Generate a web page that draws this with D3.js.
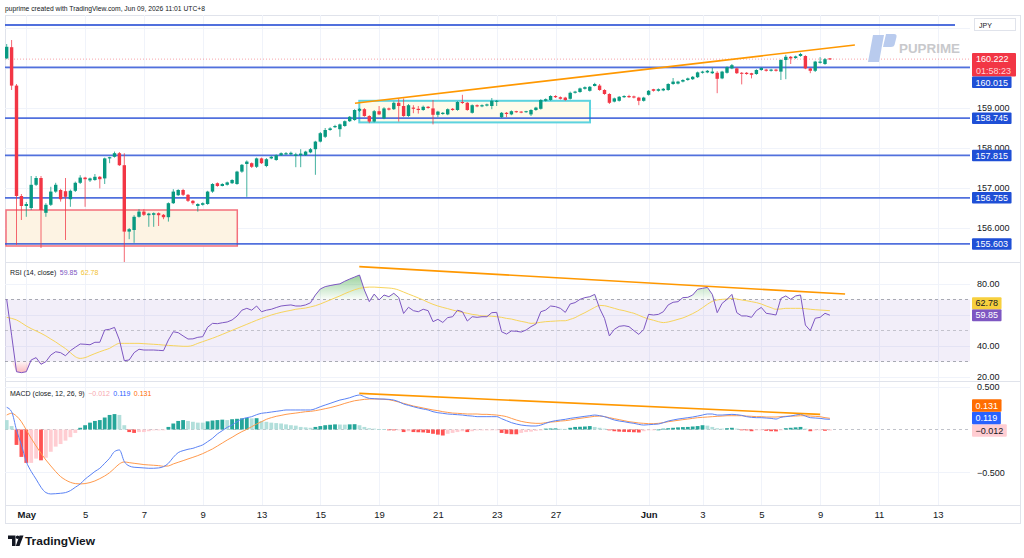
<!DOCTYPE html>
<html><head><meta charset="utf-8">
<script src="https://cdn.jsdelivr.net/npm/d3@7/dist/d3.min.js"></script>
<style>
html,body{margin:0;padding:0;background:#fff;}
svg{display:block;}
</style></head><body>
<svg id="chart" width="1024" height="558"></svg>
<script>
// ---------------- DATA ----------------
const opens = [
160.24,160.52,159.56,156.80,156.55,156.50,157.08,157.25,156.38,156.58,
156.91,156.95,156.92,156.72,156.93,157.13,157.26,157.19,157.20,157.28,
157.24,157.74,157.78,157.87,157.57,155.91,155.95,156.28,156.41,156.32,
156.33,156.37,156.33,156.27,156.62,156.82,156.95,156.83,156.68,156.55,
156.58,156.60,156.91,157.12,157.05,157.08,157.12,157.10,157.41,157.60,
157.62,157.53,157.74,157.55,157.74,157.70,157.82,157.84,157.84,157.80,
157.82,157.82,157.89,157.97,158.16,158.28,158.45,158.52,158.47,158.55,
158.67,158.70,158.93,158.97,158.80,158.66,158.92,158.74,158.99,158.97,
159.13,159.05,158.80,159.01,158.98,158.95,159.03,158.99,158.83,158.85,
158.84,158.98,158.95,159.15,159.13,158.88,159.07,159.04,159.06,159.05,
159.16,158.77,158.88,158.84,158.92,158.91,158.90,158.84,158.95,158.98,
159.18,159.20,159.30,159.27,159.26,159.23,159.38,159.40,159.48,159.43,
159.55,159.56,159.45,159.35,159.16,159.18,159.27,159.30,159.29,159.26,
159.18,159.33,159.47,159.43,159.44,159.45,159.60,159.61,159.66,159.70,
159.72,159.77,159.88,159.89,159.87,159.88,159.74,159.88,159.99,159.99,
159.88,159.88,159.87,159.85,159.95,159.96,159.93,159.96,159.91,160.20,
160.28,160.25,160.30,160.30,159.99,159.93,160.13,160.10,160.24];
const highs = [
160.60,160.70,159.60,156.85,156.65,157.30,157.30,157.30,156.62,157.03,
157.13,156.98,157.25,156.96,157.16,157.32,157.28,157.26,157.35,157.30,
157.76,157.78,157.91,157.90,157.87,156.00,156.32,156.47,156.47,156.38,
156.39,156.39,156.35,156.64,156.97,156.97,156.98,156.85,156.70,156.62,
156.64,156.93,157.12,157.14,157.12,157.16,157.22,157.43,157.60,157.69,
157.64,157.76,157.76,157.75,157.80,157.84,157.89,157.90,157.91,157.88,
157.97,157.93,158.00,158.18,158.40,158.50,158.52,158.58,158.61,158.69,
158.80,158.97,159.00,159.00,158.82,158.95,159.05,159.02,159.01,159.16,
159.24,159.24,159.10,159.07,159.05,159.06,159.05,159.20,158.93,158.90,
158.99,159.00,159.17,159.33,159.15,159.09,159.09,159.09,159.11,159.25,
159.20,158.90,158.90,158.94,158.93,158.92,158.93,158.97,159.03,159.22,
159.24,159.32,159.32,159.29,159.28,159.41,159.43,159.51,159.54,159.55,
159.63,159.60,159.47,159.37,159.26,159.30,159.32,159.33,159.31,159.28,
159.28,159.45,159.48,159.49,159.50,159.62,159.75,159.68,159.72,159.76,
159.80,159.91,159.93,159.95,160.00,159.92,159.93,160.04,160.10,160.01,
159.90,159.90,159.88,159.97,160.02,159.98,159.98,159.98,160.22,160.33,
160.30,160.31,160.38,160.32,160.01,160.18,160.27,160.25,160.25];
const lows = [
160.22,159.45,155.58,156.20,156.28,156.45,157.05,155.50,156.28,156.55,
156.88,156.66,155.70,156.53,156.90,157.10,156.53,157.15,157.18,156.99,
157.10,157.62,157.76,157.55,155.13,155.72,155.63,156.26,156.30,156.03,
156.03,156.05,156.22,156.16,156.60,156.80,156.80,156.65,156.58,156.41,
156.56,156.58,156.88,157.03,157.04,157.06,157.10,157.08,157.38,156.78,
157.50,157.50,157.60,157.52,157.72,157.68,157.80,157.83,157.82,157.52,
157.52,157.80,157.87,157.33,158.14,158.25,158.43,158.50,158.28,158.53,
158.65,158.68,158.90,158.78,158.62,158.64,158.82,158.72,158.94,158.95,
158.66,158.78,158.78,158.87,158.86,158.93,158.98,158.59,158.77,158.83,
158.82,158.93,158.93,159.10,158.93,158.86,159.02,159.02,159.04,158.97,
159.05,158.75,158.77,158.82,158.88,158.87,158.88,158.80,158.93,158.96,
159.16,159.18,159.25,159.21,159.18,159.21,159.36,159.38,159.46,159.41,
159.54,159.43,159.33,159.10,159.14,159.16,159.25,159.25,159.24,159.07,
159.16,159.31,159.41,159.41,159.42,159.43,159.58,159.59,159.64,159.68,
159.70,159.75,159.86,159.87,159.85,159.37,159.72,159.86,159.97,159.85,
159.59,159.83,159.74,159.83,159.93,159.91,159.91,159.91,159.70,159.72,
160.10,160.23,160.28,159.97,159.87,159.90,160.11,160.08,160.20];
const closes = [
160.53,159.56,156.80,156.55,156.60,157.08,157.25,156.45,156.58,156.91,
157.08,156.72,156.78,156.93,157.13,157.26,157.22,157.24,157.28,157.22,
157.74,157.77,157.87,157.57,155.91,155.97,156.28,156.41,156.33,156.36,
156.37,156.32,156.27,156.62,156.91,156.95,156.83,156.68,156.62,156.60,
156.62,156.91,157.10,157.05,157.10,157.14,157.20,157.41,157.58,157.66,
157.53,157.74,157.62,157.72,157.78,157.82,157.87,157.87,157.88,157.84,
157.86,157.91,157.97,158.16,158.37,158.45,158.49,158.55,158.59,158.67,
158.78,158.95,158.98,158.80,158.66,158.92,158.84,158.99,158.96,159.13,
159.05,158.80,159.07,158.98,158.95,159.03,159.00,158.83,158.91,158.88,
158.97,158.95,159.15,159.13,158.95,159.07,159.04,159.07,159.09,159.18,
159.18,158.88,158.85,158.92,158.90,158.89,158.92,158.95,159.01,159.20,
159.22,159.30,159.27,159.23,159.20,159.38,159.41,159.49,159.52,159.53,
159.60,159.45,159.35,159.13,159.24,159.28,159.30,159.27,159.26,159.18,
159.26,159.43,159.43,159.47,159.48,159.60,159.66,159.66,159.70,159.74,
159.78,159.89,159.91,159.93,159.91,159.73,159.91,160.02,160.07,159.87,
159.86,159.85,159.83,159.95,160.00,159.93,159.96,159.93,160.20,160.28,
160.24,160.29,160.35,159.99,159.93,160.16,160.16,160.22,160.222];

const rsi = [
70.1,47.0,23.4,22.8,23.4,31.0,32.5,28.2,29.9,34.2,
36.3,35.7,33.7,37.0,39.2,41.3,41.1,40.8,42.4,42.4,
50.3,50.8,52.0,43.9,30.5,31.0,35.7,37.9,37.4,37.4,
37.4,37.2,37.0,43.9,49.2,48.6,46.5,44.5,44.6,45.6,
46.0,52.1,54.6,54.4,55.0,55.5,56.8,59.3,63.1,64.3,
63.1,65.8,62.1,63.1,63.7,64.8,65.8,66.2,66.5,65.8,
65.8,66.5,67.9,72.9,76.8,78.3,79.0,79.6,80.1,81.8,
83.2,84.5,85.8,76.1,68.6,73.5,69.7,72.9,71.8,74.0,
71.3,61.0,65.0,62.8,62.1,63.7,62.8,55.7,57.2,55.2,
58.3,58.9,63.1,62.1,56.1,58.9,58.5,58.9,58.9,61.5,
61.7,49.2,47.7,49.7,49.5,49.0,50.3,52.5,54.2,62.1,
63.2,65.8,65.4,64.3,61.7,67.1,68.0,70.1,71.2,71.8,
73.3,64.3,57.8,46.5,50.7,52.7,53.1,52.5,49.9,47.5,
50.7,60.4,60.0,60.4,62.1,66.5,68.2,68.6,71.2,71.4,
72.9,76.6,77.2,77.8,73.3,61.5,67.5,70.1,73.3,61.5,
59.4,59.4,58.5,62.8,64.9,61.1,60.6,60.0,70.7,72.3,
70.1,72.3,72.9,53.5,49.9,57.9,58.5,61.1,59.85];
const rsiMA = [
58.5,57.8,56.8,55.0,52.9,51.2,49.7,48.2,46.5,44.5,
42.6,40.4,38.3,35.7,33.1,32.0,32.5,33.8,35.1,36.3,
37.4,38.5,40.4,41.7,41.7,41.7,41.7,41.7,41.5,41.3,
41.1,40.9,40.6,40.4,40.2,40.0,39.8,39.8,40.4,41.7,
42.8,43.9,45.0,46.2,47.5,48.8,50.1,51.4,52.7,54.0,
55.3,56.6,57.8,58.9,60.0,60.9,61.7,62.4,63.0,63.7,
64.1,64.5,65.2,66.0,67.1,68.4,69.7,71.0,72.3,73.8,
75.1,76.3,77.2,77.8,78.0,78.0,77.8,77.6,77.4,77.0,
76.1,74.8,73.5,72.3,71.0,69.7,68.2,66.9,65.8,64.9,
64.1,63.2,62.4,61.7,61.1,60.4,60.0,59.4,59.4,59.2,
58.9,58.5,57.8,57.4,56.6,55.9,55.3,54.6,54.8,55.3,
55.7,55.9,56.1,56.3,56.3,57.2,58.3,60.0,61.5,63.2,
64.9,66.2,66.0,65.2,64.3,63.4,62.8,61.9,61.1,59.8,
58.5,57.4,56.6,55.7,55.1,55.5,56.3,57.2,58.1,59.4,
60.9,62.6,64.7,66.9,68.8,69.7,70.1,70.3,70.7,70.3,
69.7,69.2,68.6,68.0,67.1,65.8,64.7,63.7,63.9,64.3,
64.3,64.3,64.3,64.1,63.7,63.4,63.2,63.0,62.78];

const macd = [
0.259,0.208,-0.006,-0.180,-0.375,-0.490,-0.580,-0.675,-0.737,-0.753,
-0.750,-0.745,-0.737,-0.714,-0.675,-0.636,-0.580,-0.535,-0.490,-0.453,
-0.395,-0.336,-0.258,-0.239,-0.375,-0.426,-0.441,-0.445,-0.449,-0.453,
-0.453,-0.449,-0.434,-0.395,-0.325,-0.270,-0.247,-0.231,-0.220,-0.200,
-0.180,-0.142,-0.103,-0.052,-0.014,0.025,0.053,0.091,0.122,0.138,
0.150,0.173,0.189,0.196,0.204,0.212,0.220,0.228,0.228,0.228,
0.228,0.228,0.228,0.243,0.266,0.286,0.305,0.325,0.344,0.356,
0.371,0.391,0.403,0.383,0.364,0.360,0.356,0.356,0.352,0.344,
0.325,0.298,0.282,0.266,0.251,0.239,0.228,0.208,0.196,0.189,
0.181,0.177,0.173,0.169,0.161,0.157,0.150,0.150,0.150,0.150,
0.150,0.126,0.103,0.080,0.064,0.052,0.045,0.041,0.041,0.052,
0.072,0.091,0.103,0.111,0.119,0.130,0.138,0.146,0.154,0.161,
0.169,0.161,0.150,0.130,0.111,0.099,0.091,0.080,0.072,0.060,
0.052,0.056,0.060,0.064,0.080,0.099,0.111,0.122,0.130,0.138,
0.146,0.157,0.169,0.181,0.181,0.169,0.169,0.173,0.177,0.173,
0.165,0.150,0.142,0.138,0.138,0.134,0.130,0.122,0.142,0.150,
0.157,0.169,0.177,0.157,0.138,0.134,0.130,0.122,0.119];
const signal = [
0.169,0.189,0.157,0.091,-0.006,-0.103,-0.193,-0.278,-0.356,-0.426,
-0.492,-0.550,-0.589,-0.617,-0.632,-0.636,-0.632,-0.620,-0.601,-0.574,
-0.543,-0.504,-0.453,-0.402,-0.379,-0.387,-0.395,-0.402,-0.410,-0.414,
-0.418,-0.422,-0.430,-0.426,-0.402,-0.383,-0.364,-0.344,-0.325,-0.305,
-0.282,-0.255,-0.227,-0.193,-0.158,-0.123,-0.091,-0.056,-0.025,0.002,
0.033,0.064,0.091,0.119,0.138,0.154,0.165,0.177,0.185,0.192,
0.200,0.208,0.212,0.220,0.231,0.243,0.255,0.270,0.286,0.305,
0.321,0.336,0.344,0.352,0.356,0.356,0.356,0.352,0.348,0.336,
0.321,0.305,0.290,0.274,0.263,0.251,0.239,0.228,0.220,0.208,
0.200,0.192,0.189,0.185,0.181,0.181,0.181,0.177,0.177,0.173,
0.169,0.161,0.150,0.130,0.111,0.095,0.084,0.076,0.072,0.072,
0.080,0.087,0.091,0.099,0.103,0.111,0.122,0.130,0.138,0.146,
0.154,0.157,0.150,0.138,0.126,0.115,0.103,0.091,0.084,0.076,
0.072,0.068,0.068,0.072,0.080,0.091,0.099,0.107,0.115,0.122,
0.130,0.138,0.142,0.146,0.150,0.154,0.157,0.161,0.161,0.161,
0.161,0.157,0.154,0.150,0.150,0.146,0.146,0.146,0.150,0.154,
0.157,0.157,0.161,0.161,0.157,0.154,0.150,0.138,0.131];
const hist = [
0.11,0.04,-0.18,-0.32,-0.39,-0.39,-0.34,-0.36,-0.33,-0.26,
-0.20,-0.17,-0.13,-0.09,-0.04,0.02,0.05,0.08,0.10,0.11,
0.14,0.17,0.18,0.17,0.05,-0.03,-0.04,-0.03,-0.03,-0.02,
-0.01,-0.01,-0.005,0.03,0.07,0.10,0.11,0.10,0.09,0.08,
0.08,0.095,0.105,0.11,0.115,0.11,0.12,0.125,0.13,0.135,
0.13,0.132,0.10,0.09,0.08,0.075,0.07,0.06,0.05,0.045,
0.03,0.025,0.02,0.03,0.04,0.05,0.055,0.06,0.058,0.057,
0.06,0.062,0.05,0.03,0.015,0.01,0.006,0.004,-0.005,-0.01,
-0.008,-0.03,-0.02,-0.03,-0.032,-0.034,-0.04,-0.05,-0.06,-0.07,
-0.05,-0.04,-0.03,-0.02,-0.03,-0.02,-0.01,-0.01,-0.01,-0.008,
-0.008,-0.04,-0.05,-0.055,-0.056,-0.04,-0.03,-0.025,-0.015,-0.01,
0.01,0.012,0.013,0.008,0.007,0.02,0.03,0.032,0.035,0.04,
0.03,0.02,0.01,-0.01,-0.02,-0.025,-0.028,-0.03,-0.032,-0.035,
-0.02,-0.01,-0.005,0.0,0.01,0.015,0.02,0.025,0.028,0.03,
0.035,0.04,0.05,0.045,0.03,0.015,0.01,0.015,0.02,0.01,
-0.005,-0.01,-0.02,-0.01,-0.008,-0.015,-0.02,-0.022,-0.005,0.015,
0.02,0.025,0.03,0.01,-0.02,-0.01,-0.008,-0.015,-0.012];

const timeTickBars = [4,16,28,40,52,64,76,88,100,112,131,142,154,166,178,190];
const timeTickLabels = ["May","5","7","9","13","15","19","21","23","27","Jun","3","5","9","11","13"];
const priceTicks = [156,157,158,159];
const rsiTicks = [20,40,80];
const macdTicks = [-0.5,0.5];
const levelLines = [161.075,160.015,158.745,157.815,156.755,155.603];
const labelledLevels = [160.015,158.745,157.815,156.755,155.603];
const lastPrice = 160.222;
const countdown = "01:58:23";
const trendPrice = [[71.08,159.12],[173.1,160.575]];
const trendRSI = [[71.96,91.2],[171.1,73.5]];
const trendMACD = [[71.96,0.422],[166,0.177]];
const rangeBox = [[71.96,159.18],[119.04,158.64]];
const demandBox = [[-0.14,156.45],[47.06,155.55]];

// ---------------- LAYOUT ----------------
const FF = "'Liberation Sans', Arial, sans-serif";
const L = 5, R = 970, SR = 1021;
const mainTop = 15, mainBot = 262, rsiTop = 262, rsiBot = 381, macdTop = 381, macdBot = 505, axisBot = 524;

const svg = d3.select("#chart").attr("font-family", FF);
const x = d3.scaleLinear().domain([0,168]).range([6.7, 6.7 + 4.9*168]);
const yP = d3.scaleLinear().domain([156,160]).range([228,68]);
const yR = d3.scaleLinear().domain([40,80]).range([346,284]);
const yM = d3.scaleLinear().domain([-0.5,0.5]).range([472.3,386.7]);

const defs = svg.append("defs");
function clip(id, y0, y1){ defs.append("clipPath").attr("id",id).append("rect").attr("x",L).attr("y",y0).attr("width",R-L).attr("height",y1-y0); }
clip("cMain", mainTop, mainBot); clip("cRsi", rsiTop, rsiBot); clip("cMacd", macdTop, macdBot);

const gOB = defs.append("linearGradient").attr("id","gOB").attr("gradientUnits","userSpaceOnUse").attr("x1",0).attr("x2",0).attr("y1",yR(87)).attr("y2",yR(70));
gOB.append("stop").attr("offset",0).attr("stop-color","rgba(76,175,80,0.6)");
gOB.append("stop").attr("offset",1).attr("stop-color","rgba(76,175,80,0.03)");
const gOS = defs.append("linearGradient").attr("id","gOS").attr("gradientUnits","userSpaceOnUse").attr("x1",0).attr("x2",0).attr("y1",yR(30)).attr("y2",yR(20));
gOS.append("stop").attr("offset",0).attr("stop-color","rgba(242,54,69,0.05)");
gOS.append("stop").attr("offset",1).attr("stop-color","rgba(242,54,69,0.45)");

svg.append("rect").attr("width",1024).attr("height",558).attr("fill","#fff");

// header
svg.append("text").attr("x",5).attr("y",11).attr("font-size",8).attr("fill","#131722")
  .attr("textLength",200).attr("lengthAdjust","spacingAndGlyphs")
  .text("puprime created with TradingView.com, Jun 09, 2026 11:01 UTC+8");

// frame
svg.append("rect").attr("x",L+0.5).attr("y",mainTop+0.5).attr("width",SR-L-1).attr("height",axisBot-mainTop-1)
  .attr("fill","none").attr("stroke","#e0e3eb");

// grid
const grid = svg.append("g").attr("stroke","#f0f3fa").attr("stroke-width",1);
timeTickBars.forEach(b=>{ const xx=Math.round(x(b))+0.5; grid.append("line").attr("x1",xx).attr("x2",xx).attr("y1",mainTop).attr("y2",macdBot); });
[156,157,158,159,160,161].forEach(p=>{ const yy=Math.round(yP(p))+0.5; grid.append("line").attr("x1",L).attr("x2",R).attr("y1",yy).attr("y2",yy); });
[20,40,60,80].forEach(v=>{ const yy=Math.round(yR(v))+0.5; grid.append("line").attr("x1",L).attr("x2",R).attr("y1",yy).attr("y2",yy); });
[-0.5,0.5].forEach(v=>{ const yy=Math.round(yM(v))+0.5; grid.append("line").attr("x1",L).attr("x2",R).attr("y1",yy).attr("y2",yy); });

// pane separators
const sep = svg.append("g").attr("stroke","#e0e3eb");
[rsiTop, macdTop, macdBot].forEach(yy=> sep.append("line").attr("x1",L).attr("x2",SR).attr("y1",yy+0.5).attr("y2",yy+0.5));

// ---------------- MAIN PANE ----------------
const gMain = svg.append("g").attr("clip-path","url(#cMain)");
// watermark
const wm = svg.append("g");
wm.append("path").attr("d","M873,35 L884,35 L879,62 L868,62 Z").attr("fill","#b9cbee");
wm.append("path").attr("d","M886,34 L894,34 Q897,34 896.5,37 L894.5,45 Q894,47 891,47 L883,47 Z").attr("fill","#b9cbee");
wm.append("text").attr("x",899).attr("y",53).attr("font-size",13.5).attr("font-weight","bold").attr("fill","#c8c9cc")
  .attr("textLength",61).attr("lengthAdjust","spacingAndGlyphs").text("PUPRIME");

// demand box
gMain.append("rect").attr("x",x(demandBox[0][0])).attr("y",yP(demandBox[0][1]))
  .attr("width",x(demandBox[1][0])-x(demandBox[0][0])).attr("height",yP(demandBox[1][1])-yP(demandBox[0][1]))
  .attr("fill","#fdf3e3").attr("stroke","#f4707c").attr("stroke-width",1.5);
// range box
gMain.append("rect").attr("x",x(rangeBox[0][0])).attr("y",yP(rangeBox[0][1]))
  .attr("width",x(rangeBox[1][0])-x(rangeBox[0][0])).attr("height",yP(rangeBox[1][1])-yP(rangeBox[0][1]))
  .attr("fill","#fffbea").attr("stroke","#5dd3df").attr("stroke-width",2);

// level lines
levelLines.forEach((p,k)=>{
  gMain.append("line").attr("x1",L).attr("x2",k===0?955:R).attr("y1",yP(p)).attr("y2",yP(p))
    .attr("stroke","#3358d8").attr("stroke-width",1.8).attr("opacity",0.85);
});
// last price dotted line
gMain.append("line").attr("x1",L).attr("x2",R).attr("y1",yP(lastPrice)).attr("y2",yP(lastPrice))
  .attr("stroke","#F23645").attr("stroke-width",1).attr("stroke-dasharray","1,2").attr("opacity",0.45);

// candles
const idx = d3.range(opens.length);
const UP="#089981", DN="#F23645";
const cg = gMain.append("g");
cg.selectAll("line.w").data(idx).join("line").attr("class","w")
  .attr("x1",i=>x(i)).attr("x2",i=>x(i)).attr("y1",i=>yP(highs[i])).attr("y2",i=>yP(lows[i]))
  .attr("stroke",i=>closes[i]>=opens[i]?UP:DN).attr("stroke-width",1).attr("opacity",0.75);
cg.selectAll("rect.b").data(idx).join("rect").attr("class","b")
  .attr("x",i=>x(i)-1.7).attr("width",3.4)
  .attr("y",i=>yP(Math.max(opens[i],closes[i])))
  .attr("height",i=>Math.max(1,Math.abs(yP(opens[i])-yP(closes[i]))))
  .attr("fill",i=>closes[i]>=opens[i]?UP:DN);

// price trendline
gMain.append("line").attr("x1",x(trendPrice[0][0])).attr("y1",yP(trendPrice[0][1]))
  .attr("x2",x(trendPrice[1][0])).attr("y2",yP(trendPrice[1][1]))
  .attr("stroke","#FF9800").attr("stroke-width",1.6);

// ---------------- RSI PANE ----------------
const gR = svg.append("g").attr("clip-path","url(#cRsi)");
gR.append("rect").attr("x",L).attr("width",R-L).attr("y",yR(70)).attr("height",yR(30)-yR(70)).attr("fill","rgba(126,87,194,0.1)");
[70,50,30].forEach(v=> gR.append("line").attr("x1",L).attr("x2",R).attr("y1",yR(v)).attr("y2",yR(v))
  .attr("stroke","#9598a1").attr("stroke-dasharray","3,3").attr("stroke-width",1).attr("opacity",v===50?0.5:0.8));
gR.append("path").datum(idx).attr("fill","url(#gOB)")
  .attr("d", d3.area().x(i=>x(i)).y0(yR(70)).y1(i=>yR(Math.max(70,rsi[i])))(idx));
gR.append("path").datum(idx).attr("fill","url(#gOS)")
  .attr("d", d3.area().x(i=>x(i)).y0(yR(30)).y1(i=>yR(Math.min(30,rsi[i])))(idx));
gR.append("path").attr("fill","none").attr("stroke","#F7D45C").attr("stroke-width",1)
  .attr("d", d3.line().x(i=>x(i)).y(i=>yR(rsiMA[i])).curve(d3.curveMonotoneX)(idx));
gR.append("path").attr("fill","none").attr("stroke","#7E57C2").attr("stroke-width",1)
  .attr("d", d3.line().x(i=>x(i)).y(i=>yR(rsi[i]))(idx));
gR.append("line").attr("x1",x(trendRSI[0][0])).attr("y1",yR(trendRSI[0][1]))
  .attr("x2",x(trendRSI[1][0])).attr("y2",yR(trendRSI[1][1])).attr("stroke","#FF9800").attr("stroke-width",1.6);

// ---------------- MACD PANE ----------------
const gM = svg.append("g").attr("clip-path","url(#cMacd)");
gM.append("line").attr("x1",L).attr("x2",R).attr("y1",yM(0)).attr("y2",yM(0))
  .attr("stroke","#b2b5be").attr("stroke-dasharray","3,3").attr("opacity",0.8);
function histColor(i){
  const h=hist[i], p=i>0?hist[i-1]:h;
  if(h>=0) return h>p?"#26A69A":"#B2DFDB";
  return h<p?"#FF5252":"#FFCDD2";
}
gM.selectAll("rect.h").data(idx).join("rect").attr("class","h")
  .attr("x",i=>x(i)-1.9).attr("width",3.8)
  .attr("y",i=>Math.min(yM(0),yM(hist[i])))
  .attr("height",i=>Math.max(0.8,Math.abs(yM(hist[i])-yM(0))))
  .attr("fill",histColor);
gM.append("path").attr("fill","none").attr("stroke","#FF9A4D").attr("stroke-width",1)
  .attr("d", d3.line().x(i=>x(i)).y(i=>yM(signal[i])).curve(d3.curveMonotoneX)(idx));
gM.append("path").attr("fill","none").attr("stroke","#5B83F5").attr("stroke-width",1)
  .attr("d", d3.line().x(i=>x(i)).y(i=>yM(macd[i])).curve(d3.curveMonotoneX)(idx));
gM.append("line").attr("x1",x(trendMACD[0][0])).attr("y1",yM(trendMACD[0][1]))
  .attr("x2",x(trendMACD[1][0])).attr("y2",yM(trendMACD[1][1])).attr("stroke","#FF9800").attr("stroke-width",1.6);

// ---------------- AXES ----------------
function styleAxis(g){
  g.select(".domain").remove();
  g.attr("font-family",FF).attr("font-size",9);
  g.selectAll("text").attr("fill","#131722");
}
svg.append("g").attr("transform",`translate(${R},0)`)
  .call(d3.axisRight(yP).tickValues(priceTicks).tickFormat(d3.format(".3f")).tickSize(0).tickPadding(7)).call(styleAxis);
svg.append("g").attr("transform",`translate(${R},0)`)
  .call(d3.axisRight(yR).tickValues(rsiTicks).tickFormat(d3.format(".2f")).tickSize(0).tickPadding(7)).call(styleAxis);
svg.append("g").attr("transform",`translate(${R},0)`)
  .call(d3.axisRight(yM).tickValues(macdTicks).tickFormat(d3.format(".3f")).tickSize(0).tickPadding(7)).call(styleAxis);
const gx = svg.append("g").attr("transform",`translate(0,${macdBot})`)
  .call(d3.axisBottom(x).tickValues(timeTickBars).tickFormat((d,k)=>timeTickLabels[k]).tickSize(0).tickPadding(6)).call(styleAxis);
gx.selectAll("text").attr("font-size",9.5).attr("font-weight",(d,k)=>/[A-Za-z]/.test(timeTickLabels[k])?"bold":"normal");

// JPY box
svg.append("rect").attr("x",974.5).attr("y",18.5).attr("width",41).attr("height",12).attr("fill","#fff").attr("stroke","#e0e3eb");
svg.append("text").attr("x",979).attr("y",27.5).attr("font-size",7).attr("fill","#131722").text("JPY");

// ---------------- VALUE LABELS ----------------
function drawLabel(y, txt, bg, fg, h){
  const g = svg.append("g");
  const r = g.append("rect").attr("x",972).attr("y",y-h/2).attr("height",h).attr("fill",bg).attr("rx",1);
  const t = g.append("text").attr("x",975.5).attr("y",y+3.2).attr("font-size",9).attr("fill",fg).text(txt);
  r.attr("width", t.node().getComputedTextLength()+7);
}
// price pane: last price first, others pushed downward
const yLast = yP(lastPrice);
const lastTop = yLast-6, lastBot = yLast+17.5;
svg.append("rect").attr("x",972).attr("y",lastTop).attr("width",44).attr("height",lastBot-lastTop).attr("fill","#F23645").attr("rx",1);
svg.append("text").attr("x",976).attr("y",yLast+3.2).attr("font-size",9).attr("fill","#fff").text(d3.format(".3f")(lastPrice));
svg.append("text").attr("x",976).attr("y",yLast+14.5).attr("font-size",9).attr("fill","#ffd3d7").text(countdown);
let prevBottom = lastBot;
const LH = 11.5;
labelledLevels.slice().sort((a,b)=>b-a).forEach(p=>{
  let yy = yP(p);
  if (yy - LH/2 < prevBottom) yy = prevBottom + LH/2;
  drawLabel(yy, d3.format(".3f")(p), "#1f4fd6", "#fff", LH);
  prevBottom = yy + LH/2;
});
// RSI / MACD: push upward from the bottom
function stackUp(items, h){
  items.sort((a,b)=>b.y-a.y);
  let top = Infinity;
  items.forEach(it=>{ if(it.y + h/2 > top) it.y = top - h/2; top = it.y - h/2; drawLabel(it.y, it.txt, it.bg, it.fg, h); });
}
stackUp([
  {y:yR(rsiMA[rsiMA.length-1]), txt:d3.format(".2f")(rsiMA[rsiMA.length-1]), bg:"#F7D03E", fg:"#131722"},
  {y:yR(rsi[rsi.length-1]), txt:d3.format(".2f")(rsi[rsi.length-1]), bg:"#7E57C2", fg:"#fff"}
], 12);
stackUp([
  {y:yM(signal[signal.length-1]), txt:d3.format(".3f")(signal[signal.length-1]), bg:"#FF6D00", fg:"#fff"},
  {y:yM(macd[macd.length-1]), txt:d3.format(".3f")(macd[macd.length-1]), bg:"#2962FF", fg:"#fff"},
  {y:yM(hist[hist.length-1]), txt:d3.format(".3f")(hist[hist.length-1]), bg:"#FFCDD2", fg:"#131722"}
], 12.5);

// ---------------- INDICATOR TITLES ----------------
// laid out left to right using each piece's natural width
function titleRow(xp, y, parts){
  let cx = xp;
  parts.forEach(p=>{
    const t = svg.append("text").attr("x",cx).attr("y",y).attr("font-size",7).attr("fill",p[1]).text(p[0]);
    cx += t.node().getComputedTextLength() + 3.5;
  });
}
titleRow(10, 274.5, [
  ["RSI (14, close)","#131722"],
  [d3.format(".2f")(rsi[rsi.length-1]),"#7E57C2"],
  [d3.format(".2f")(rsiMA[rsiMA.length-1]),"#F2C230"]
]);
titleRow(10, 395.5, [
  ["MACD (close, 12, 26, 9)","#131722"],
  [d3.format(".3f")(hist[hist.length-1]),"#F7A8B0"],
  [d3.format(".3f")(macd[macd.length-1]),"#2962FF"],
  [d3.format(".3f")(signal[signal.length-1]),"#FF6D00"]
]);

// ---------------- TRADINGVIEW LOGO ----------------
const tv = svg.append("g").attr("fill","#131722");
tv.append("path").attr("d","M8,535.5 H15.5 V546 H12 V539 H8 Z");
tv.append("circle").attr("cx",17.6).attr("cy",537.3).attr("r",1.8);
tv.append("path").attr("d","M19.5,535.5 H23.5 L19.5,546 H15.8 Z");
tv.append("text").attr("x",25).attr("y",545).attr("font-size",11.5).attr("font-weight","bold")
  .attr("textLength",70).attr("lengthAdjust","spacingAndGlyphs").text("TradingView");
</script>
</body></html>
